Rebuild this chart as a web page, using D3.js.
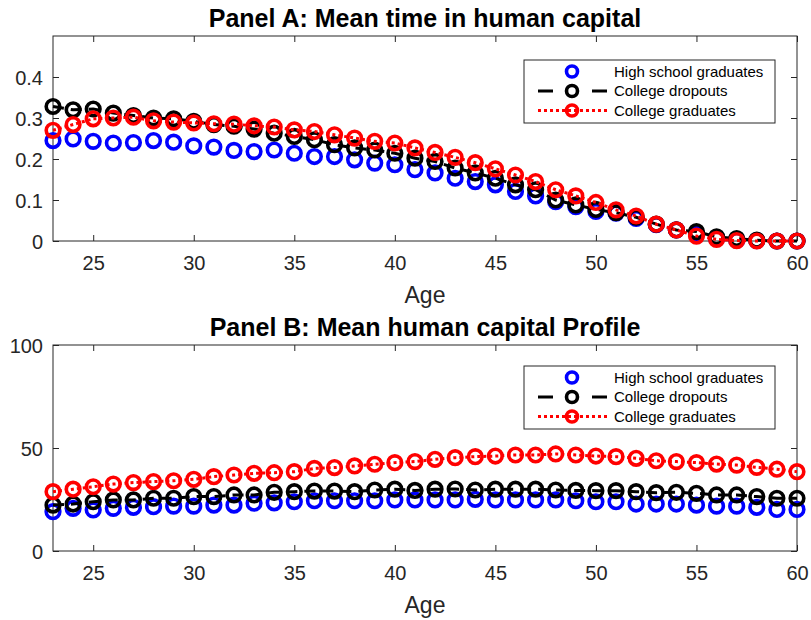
<!DOCTYPE html>
<html><head><meta charset="utf-8">
<script src="https://cdn.jsdelivr.net/npm/d3@7"></script>
<style>body{margin:0;background:#fff}svg{display:block;font-family:"Liberation Sans",Arial,sans-serif}</style>
</head><body><svg id="c" width="811" height="620"></svg>
<script>
const ages = d3.range(23, 61);
const seriesNames = ["High school graduates", "College dropouts", "College graduates"];
// Panel A: mean time in human capital
const timeHS = [0.245,0.249,0.243,0.239,0.240,0.245,0.241,0.232,0.229,0.221,0.218,0.222,0.214,0.206,0.206,0.198,0.190,0.186,0.174,0.166,0.153,0.145,0.137,0.121,0.110,0.096,0.084,0.072,0.068,0.055,0.040,0.027,0.017,0.006,0.002,0.001,0.000,0.000];
const timeCD = [0.328,0.320,0.322,0.312,0.306,0.300,0.298,0.292,0.284,0.280,0.273,0.263,0.255,0.247,0.235,0.227,0.222,0.214,0.202,0.194,0.178,0.166,0.153,0.137,0.125,0.100,0.088,0.077,0.069,0.058,0.041,0.027,0.023,0.010,0.006,0.002,0.000,0.000];
const timeCG = [0.270,0.284,0.298,0.300,0.302,0.293,0.290,0.288,0.286,0.285,0.281,0.278,0.271,0.267,0.259,0.251,0.243,0.239,0.227,0.216,0.204,0.191,0.176,0.161,0.145,0.125,0.110,0.094,0.076,0.061,0.041,0.027,0.012,0.004,0.001,0.000,0.000,0.000];
// Panel B: mean human capital profile
const hcHS = [19.1,20.7,19.9,20.7,21.2,21.5,21.8,21.8,22.3,22.3,23.2,23.4,23.9,24.4,24.4,24.4,24.4,24.8,24.8,24.8,24.8,25.1,24.8,24.8,24.8,24.8,24.4,23.9,23.9,22.8,22.8,22.8,22.3,21.8,21.8,21.2,20.2,20.2];
const hcCD = [22.3,22.8,23.9,24.8,24.8,25.6,25.6,26.4,26.4,27.2,27.2,28.5,28.8,29.1,29.1,28.8,29.6,30.0,29.4,30.0,30.1,29.6,30.0,30.0,30.0,29.6,29.4,29.3,29.3,28.8,28.3,28.5,28.0,27.2,27.2,26.4,25.6,25.6];
const hcCG = [28.8,30.0,31.2,32.5,33.2,33.7,34.1,34.8,36.1,36.9,37.7,38.0,38.5,40.1,40.5,41.3,42.1,42.9,43.4,44.5,45.3,45.8,46.1,46.6,46.6,47.1,46.6,46.1,45.8,45.0,43.8,43.4,42.9,42.2,41.7,40.6,39.7,38.5];
const xTicks = [25,30,35,40,45,50,55,60];
const yTicksA = [0,0.1,0.2,0.3,0.4];
const yTicksB = [0,50,100];
const titleA = "Panel A: Mean time in human capital";
const titleB = "Panel B: Mean human capital Profile";
const xLabel = "Age";

const svg = d3.select("#c");
const axisCol = "#262626";
const styles = [
  {color:"#0000ff", dash:null},
  {color:"#000000", dash:"11,7"},
  {color:"#ff0000", dash:"3,3"}
];

function panel(top, bottom, yDomain, yTicks, yFmt, series, title, legendTop) {
  const left = 53, right = 797;
  const x = d3.scaleLinear().domain([23, 60]).range([left, right]);
  const y = d3.scaleLinear().domain(yDomain).range([bottom, top]);
  const g = svg.append("g");
  g.append("rect").attr("x", left).attr("y", top).attr("width", right-left).attr("height", bottom-top)
    .attr("fill","none").attr("stroke", axisCol).attr("stroke-width",1);
  const tl = 6;
  const ax = g.append("g").attr("transform", `translate(0,${bottom})`)
    .call(d3.axisBottom(x).tickValues(xTicks).tickSizeInner(-tl).tickSizeOuter(0).tickPadding(15));
  const axT = g.append("g").attr("transform", `translate(0,${top})`)
    .call(d3.axisTop(x).tickValues(xTicks).tickSizeInner(-tl).tickSizeOuter(0).tickFormat(""));
  const ay = g.append("g").attr("transform", `translate(${left},0)`)
    .call(d3.axisLeft(y).tickValues(yTicks).tickSizeInner(-tl).tickSizeOuter(0).tickPadding(10).tickFormat(yFmt));
  const ayR = g.append("g").attr("transform", `translate(${right},0)`)
    .call(d3.axisRight(y).tickValues(yTicks).tickSizeInner(-tl).tickSizeOuter(0).tickFormat(""));
  [ax, axT, ay, ayR].forEach(a => {
    a.select(".domain").remove();
    a.selectAll("line").attr("stroke", axisCol);
    a.selectAll("text").attr("fill", axisCol).attr("font-size", 20).attr("font-family", "Liberation Sans, Arial, sans-serif");
  });
  ay.selectAll("text").attr("dy", "0.36em");
  g.append("text").attr("x", (left+right)/2).attr("y", bottom + 62).attr("text-anchor","middle")
    .attr("font-size", 23).attr("fill", axisCol).text(xLabel);
  g.append("text").attr("x", (left+right)/2).attr("y", top - 9).attr("text-anchor","middle")
    .attr("font-size", 25).attr("font-weight","bold").attr("fill","#000").text(title);
  series.forEach((vals, i) => {
    const st = styles[i];
    const pts = ages.map((a, k) => [x(a), y(vals[k])]);
    if (st.dash) {
      g.append("path").attr("d", d3.line()(pts)).attr("fill","none")
        .attr("stroke", st.color).attr("stroke-width", 3).attr("stroke-dasharray", st.dash);
    }
    g.append("g").selectAll("circle").data(pts).join("circle")
      .attr("cx", d => d[0]).attr("cy", d => d[1]).attr("r", 6.8)
      .attr("fill","none").attr("stroke", st.color).attr("stroke-width", 3.6);
  });
  const lx = 524, lw = 251, lh = 63;
  const lg = g.append("g");
  lg.append("rect").attr("x", lx).attr("y", legendTop).attr("width", lw).attr("height", lh)
    .attr("fill","#fff").attr("stroke", axisCol).attr("stroke-width",1);
  seriesNames.forEach((name, i) => {
    const ry = legendTop + 11.5 + i*19.5;
    const st = styles[i];
    if (st.dash) {
      lg.append("line").attr("x1", 538).attr("x2", 607).attr("y1", ry).attr("y2", ry)
        .attr("stroke", st.color).attr("stroke-width", 3).attr("stroke-dasharray", i===1 ? "15,39" : "3,3");
    }
    lg.append("circle").attr("cx", 572).attr("cy", ry).attr("r", 5.5)
      .attr("fill","none").attr("stroke", st.color).attr("stroke-width", 3.6);
    lg.append("text").attr("x", 614).attr("y", ry).attr("dy","0.36em")
      .attr("font-size", 15).attr("fill","#000").text(name);
  });
}

const fmtA = d => d === 0 ? "0" : d3.format(".1f")(d);
panel(36, 241, [0, 0.5], yTicksA, fmtA, [timeHS, timeCD, timeCG], titleA, 60);
panel(345, 551, [0, 100], yTicksB, d3.format("d"), [hcHS, hcCD, hcCG], titleB, 366);
</script></body></html>
